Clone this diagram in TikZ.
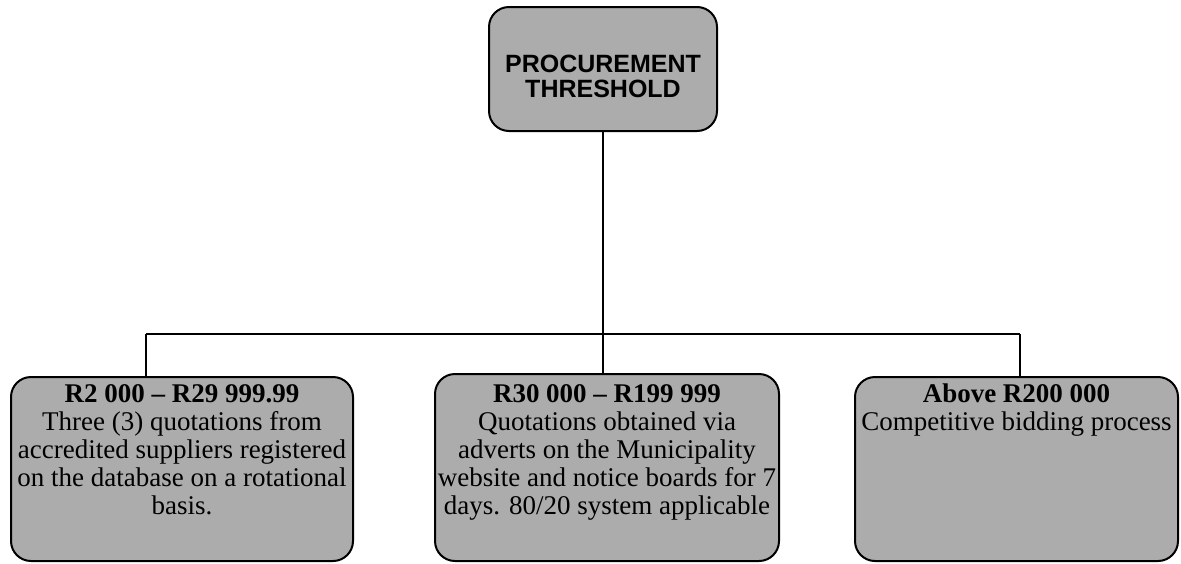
\documentclass[tikz,border=0pt]{standalone}
\usepackage{fontspec}
\setmainfont{Liberation Serif}
\newfontfamily\arialf{Liberation Sans}
\definecolor{boxgray}{RGB}{172,172,172}
\tikzset{
  box/.style={draw=black, line width=2pt, rounded corners=20pt, fill=boxgray, inner sep=0pt},
  conn/.style={draw=black, line width=1.6pt},
  txt/.style={align=center, inner sep=0pt, anchor=north, font=\fontsize{27}{28}\selectfont},
  ttl/.style={align=center, inner sep=0pt, font=\arialf\bfseries\fontsize{25}{25}\selectfont}
}
\begin{document}
\begin{tikzpicture}[x=1pt,y=-1pt]
\useasboundingbox (0,0) rectangle (1181,563);
% top box
\node[box, minimum width=228pt, minimum height=124pt] (top) at (603,69) {};
\node[ttl] (toptext) at (603,76) {PROCUREMENT\\THRESHOLD};
% bottom boxes
\node[box, minimum width=342pt, minimum height=184pt] (b1) at (182,469) {};
\node[box, minimum width=344pt, minimum height=187pt] (b2) at (607,467.5) {};
\node[box, minimum width=323pt, minimum height=184pt] (b3) at (1016.5,469) {};
% texts
\node[txt] (t1) at (182,384) {\textbf{R2 000 – R29 999.99}\\Three (3) quotations from\\accredited suppliers registered\\on the database on a rotational\\basis.};
\node[txt] (t2) at (607,384) {\textbf{R30 000 – R199 999}\\Quotations obtained via\\adverts on the Municipality\\website and notice boards for 7\\days. 80/20 system applicable};
\node[txt] (t3) at (1016.5,384) {\textbf{Above R200 000}\\Competitive bidding process};
% connectors
\coordinate (j1) at (146,334);
\coordinate (j3) at (1020,334);
\draw[conn] (top.south) -- (top.south |- b2.north);
\draw[conn] (j1) -- (j3);
\draw[conn] (j1) -- (j1 |- b1.north);
\draw[conn] (j3) -- (j3 |- b3.north);
\end{tikzpicture}
\end{document}
